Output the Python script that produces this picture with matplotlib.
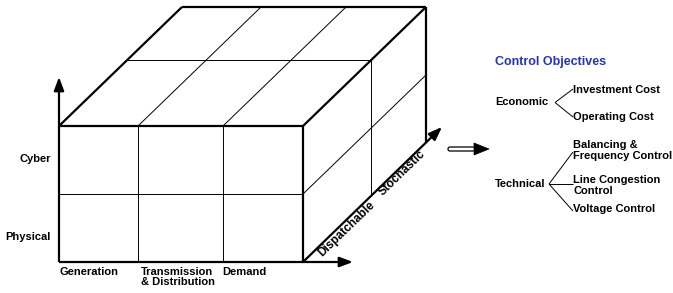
import matplotlib
matplotlib.use("Agg")
import matplotlib.pyplot as plt
from matplotlib.patches import Polygon, FancyBboxPatch

# ---- diagram content ----
row_labels = ["Cyber", "Physical"]
col_labels = ["Generation", "Transmission\n& Distribution", "Demand"]
depth_labels = ["Dispatchable", "Stochastic"]
title_right = "Control Objectives"
economic_label = "Economic"
economic_items = ["Investment Cost", "Operating Cost"]
technical_label = "Technical"
technical_items = ["Balancing &\nFrequency Control", "Line Congestion\nControl", "Voltage Control"]

W, H = 673, 293
fig = plt.figure(figsize=(W / 100, H / 100), dpi=100)
ax = fig.add_axes([0, 0, 1, 1])
ax.set_xlim(0, W)
ax.set_ylim(H, 0)
ax.axis("off")

plt.rcParams['font.family'] = ['Liberation Sans', 'DejaVu Sans']
FS = 8
THICK = 1.6
THIN = 0.7

# cube geometry (pixel coords)
x0, x1 = 59, 303
ytop, ybot = 126, 262
ymid = 194
xdiv = [138, 223]
dx, dy = 123, -119
f = 0.555

def line(p, q, lw, color="black"):
    ax.plot([p[0], q[0]], [p[1], q[1]], color=color, lw=lw, solid_capstyle="butt")

# front face
line((x0, ytop), (x1, ytop), THICK)
line((x1, ytop), (x1, ybot), THICK)
line((x0, ybot), (x1, ybot), THICK)
line((x0, ytop), (x0, ybot), THICK)
line((x0, ymid), (x1, ymid), THIN)
for xd in xdiv:
    line((xd, ytop), (xd, ybot), THIN)

# top face
line((x0, ytop), (x0 + dx, ytop + dy), THICK)
line((x0 + dx, ytop + dy), (x1 + dx, ytop + dy), THICK)
line((x1, ytop), (x1 + dx, ytop + dy), THICK)
for xd in xdiv:
    line((xd, ytop), (xd + dx, ytop + dy), THIN)
line((x0 + f * dx, ytop + f * dy), (x1 + f * dx, ytop + f * dy), THIN)

# right face
line((x1 + dx, ytop + dy), (x1 + dx, ybot + dy), THICK)
line((x1, ymid), (x1 + dx, ymid + dy), THIN)
line((x1 + f * dx, ytop + f * dy), (x1 + f * dx, ybot + f * dy), THIN)

# axes arrows
def arrow(p, q, lw, hl=12, hw=9):
    ax.annotate("", xy=q, xytext=p,
                arrowprops=dict(arrowstyle=f"-|>,head_length={hl/10},head_width={hw/20}",
                                color="black", lw=lw, shrinkA=0, shrinkB=0))

arrow((x0, ytop), (x0, 77), THICK, hl=8, hw=6)
arrow((x1, ybot), (353, ybot), THICK, hl=8, hw=6)
arrow((x1, ybot), (442, 127), THICK, hl=8, hw=6)

# labels
ax.text(51, 159, row_labels[0], ha="right", va="center", fontsize=FS, fontweight="bold")
ax.text(51, 237, row_labels[1], ha="right", va="center", fontsize=FS, fontweight="bold")
ax.text(59, 267, col_labels[0], ha="left", va="top", fontsize=FS, fontweight="bold")
ax.text(141, 267, col_labels[1], ha="left", va="top", fontsize=FS, fontweight="bold",
        linespacing=1.0)
ax.text(222, 267, col_labels[2], ha="left", va="top", fontsize=FS, fontweight="bold")
ax.text(347, 229, depth_labels[0], ha="center", va="center", rotation=44,
        rotation_mode="anchor", fontsize=8.5, fontweight="bold")
ax.text(402, 173, depth_labels[1], ha="center", va="center", rotation=44,
        rotation_mode="anchor", fontsize=8.5, fontweight="bold")

# hollow arrow
shaft = FancyBboxPatch((448, 147), 27, 4, boxstyle="round,pad=0,rounding_size=2",
                       facecolor="white", edgecolor="black", lw=0.9)
ax.add_patch(shaft)
ax.add_patch(Polygon([(474, 143), (489, 149), (474, 155)], closed=True,
                     facecolor="black", edgecolor="black", lw=0.5))

# right side tree
ax.text(495, 62, title_right, ha="left", va="center", fontsize=9, fontweight="bold",
        color="#2436b0")
ax.text(495, 102, economic_label, ha="left", va="center", fontsize=FS, fontweight="bold")
ex = (555, 102.5)
eco_ends = [(573, 89), (573, 117)]
eco_text_y = [90, 117]
for end, ty, lab in zip(eco_ends, eco_text_y, economic_items):
    line(ex, end, THIN)
    ax.text(573, ty, lab, ha="left", va="center", fontsize=FS, fontweight="bold")

ax.text(495, 184, technical_label, ha="left", va="center", fontsize=FS, fontweight="bold")
tx = (549, 184)
tech_ends = [(573, 152), (573, 184), (573, 211)]
tech_text_y = [150.5, 185.5, 209]
for end, ty, lab in zip(tech_ends, tech_text_y, technical_items):
    line(tx, end, THIN)
    ax.text(573, ty, lab, ha="left", va="center", fontsize=FS, fontweight="bold",
            linespacing=1.05)

fig.savefig("out.png", dpi=100)
